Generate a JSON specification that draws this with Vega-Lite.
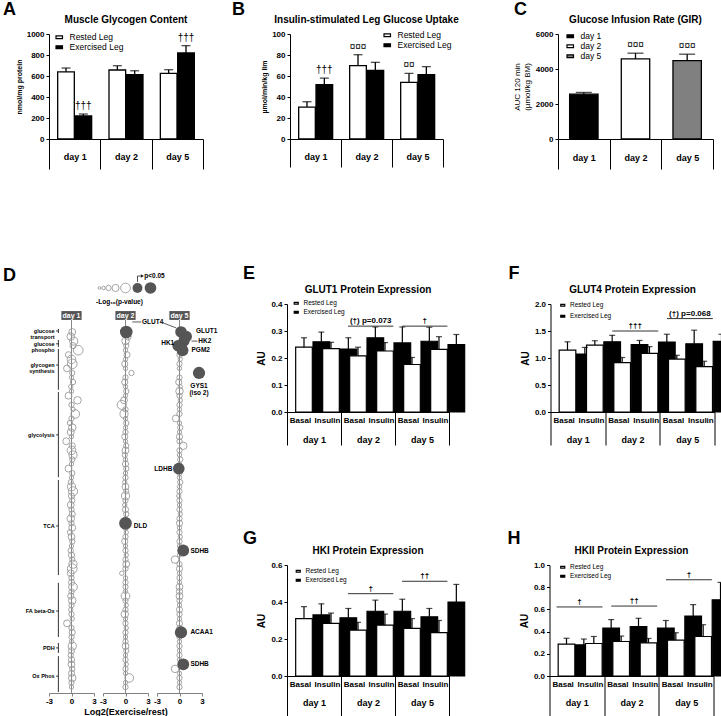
{
"$schema":"https://vega.github.io/schema/vega-lite/v6.json",
"background":"white",
"padding":{"left":3,"top":1,"right":0,"bottom":0},
"config":{
 "font":"Liberation Sans",
 "view":{"stroke":null},
 "axis":{"grid":false,"domainColor":"black","tickColor":"black","labelColor":"black","titleColor":"black","labelFontWeight":"bold","labelFontSize":8,"tickSize":3,"labelPadding":2,"titleFontWeight":"bold","titleFontSize":7,"domainWidth":1,"tickWidth":1,"labelOverlap":false},
 "title":{"fontSize":10,"fontWeight":"bold","color":"black"},
 "legend":{"labelColor":"black","labelFontWeight":"normal","symbolStrokeColor":"black","symbolStrokeWidth":1.2,"symbolType":"M-1,-0.45H1V0.45H-1Z"},
 "text":{"color":"black"}
},
"datasets":{
 "gly":[{"day":"day 1","leg":"Rested Leg","v":640,"hi":676,"sig":""},{"day":"day 1","leg":"Exercised Leg","v":219,"hi":238,"sig":"†††"},{"day":"day 2","leg":"Rested Leg","v":657,"hi":698,"sig":""},{"day":"day 2","leg":"Exercised Leg","v":612,"hi":650,"sig":""},{"day":"day 5","leg":"Rested Leg","v":625,"hi":660,"sig":""},{"day":"day 5","leg":"Exercised Leg","v":819,"hi":889,"sig":"†††"}],
 "glu":[{"day":"day 1","leg":"Rested Leg","v":30.4,"hi":35.5,"sig":""},{"day":"day 1","leg":"Exercised Leg","v":51.7,"hi":58,"sig":"†††"},{"day":"day 2","leg":"Rested Leg","v":69.8,"hi":80.3,"sig":"¤¤¤"},{"day":"day 2","leg":"Exercised Leg","v":65.4,"hi":73,"sig":""},{"day":"day 5","leg":"Rested Leg","v":54,"hi":62.5,"sig":"¤¤"},{"day":"day 5","leg":"Exercised Leg","v":61.2,"hi":68.9,"sig":""}],
 "gir":[{"day":"day 1","v":2560,"hi":2660,"sig":""},{"day":"day 2","v":4574,"hi":4904,"sig":"¤¤¤"},{"day":"day 5","v":4481,"hi":4846,"sig":"¤¤¤"}],
 "glut1":[{"c":"d1 Basal","leg":"Rested Leg","v":0.240,"hi":0.275},{"c":"d1 Basal","leg":"Exercised Leg","v":0.260,"hi":0.296},{"c":"d1 Insulin","leg":"Rested Leg","v":0.235,"hi":0.258},{"c":"d1 Insulin","leg":"Exercised Leg","v":0.233,"hi":0.275},{"c":"d2 Basal","leg":"Rested Leg","v":0.208,"hi":0.240},{"c":"d2 Basal","leg":"Exercised Leg","v":0.275,"hi":0.315},{"c":"d2 Insulin","leg":"Rested Leg","v":0.226,"hi":0.257},{"c":"d2 Insulin","leg":"Exercised Leg","v":0.256,"hi":0.315},{"c":"d5 Basal","leg":"Rested Leg","v":0.176,"hi":0.202},{"c":"d5 Basal","leg":"Exercised Leg","v":0.262,"hi":0.314},{"c":"d5 Insulin","leg":"Rested Leg","v":0.232,"hi":0.279},{"c":"d5 Insulin","leg":"Exercised Leg","v":0.250,"hi":0.287}],
 "glut4":[{"c":"d1 Basal","leg":"Rested Leg","v":1.147,"hi":1.30},{"c":"d1 Basal","leg":"Exercised Leg","v":1.074,"hi":1.196},{"c":"d1 Insulin","leg":"Rested Leg","v":1.24,"hi":1.32},{"c":"d1 Insulin","leg":"Exercised Leg","v":1.30,"hi":1.42},{"c":"d2 Basal","leg":"Rested Leg","v":0.914,"hi":1.01},{"c":"d2 Basal","leg":"Exercised Leg","v":1.25,"hi":1.325},{"c":"d2 Insulin","leg":"Rested Leg","v":1.086,"hi":1.21},{"c":"d2 Insulin","leg":"Exercised Leg","v":1.295,"hi":1.44},{"c":"d5 Basal","leg":"Rested Leg","v":0.98,"hi":1.05},{"c":"d5 Basal","leg":"Exercised Leg","v":1.264,"hi":1.515},{"c":"d5 Insulin","leg":"Rested Leg","v":0.84,"hi":0.94},{"c":"d5 Insulin","leg":"Exercised Leg","v":1.307,"hi":1.44}],
 "hk1":[{"c":"d1 Basal","leg":"Rested Leg","v":0.31,"hi":0.375},{"c":"d1 Basal","leg":"Exercised Leg","v":0.33,"hi":0.39},{"c":"d1 Insulin","leg":"Rested Leg","v":0.285,"hi":0.34},{"c":"d1 Insulin","leg":"Exercised Leg","v":0.315,"hi":0.365},{"c":"d2 Basal","leg":"Rested Leg","v":0.248,"hi":0.29},{"c":"d2 Basal","leg":"Exercised Leg","v":0.35,"hi":0.41},{"c":"d2 Insulin","leg":"Rested Leg","v":0.275,"hi":0.335},{"c":"d2 Insulin","leg":"Exercised Leg","v":0.35,"hi":0.415},{"c":"d5 Basal","leg":"Rested Leg","v":0.257,"hi":0.31},{"c":"d5 Basal","leg":"Exercised Leg","v":0.32,"hi":0.365},{"c":"d5 Insulin","leg":"Rested Leg","v":0.235,"hi":0.30},{"c":"d5 Insulin","leg":"Exercised Leg","v":0.40,"hi":0.495}],
 "hk2":[{"c":"d1 Basal","leg":"Rested Leg","v":0.287,"hi":0.34},{"c":"d1 Basal","leg":"Exercised Leg","v":0.28,"hi":0.333},{"c":"d1 Insulin","leg":"Rested Leg","v":0.293,"hi":0.356},{"c":"d1 Insulin","leg":"Exercised Leg","v":0.432,"hi":0.508},{"c":"d2 Basal","leg":"Rested Leg","v":0.311,"hi":0.36},{"c":"d2 Basal","leg":"Exercised Leg","v":0.444,"hi":0.52},{"c":"d2 Insulin","leg":"Rested Leg","v":0.299,"hi":0.338},{"c":"d2 Insulin","leg":"Exercised Leg","v":0.432,"hi":0.50},{"c":"d5 Basal","leg":"Rested Leg","v":0.323,"hi":0.39},{"c":"d5 Basal","leg":"Exercised Leg","v":0.54,"hi":0.643},{"c":"d5 Insulin","leg":"Rested Leg","v":0.356,"hi":0.462},{"c":"d5 Insulin","leg":"Exercised Leg","v":0.686,"hi":0.843}],
 "spans":[{"panel":"E","day":"day 2","y":0.318,"t":"(†) p=0.073"},{"panel":"E","day":"day 5","y":0.318,"t":"†"},{"panel":"F","day":"day 2","y":1.5,"t":"†††"},{"panel":"F","day":"day 5","y":1.73,"t":"(†) p=0.068"},{"panel":"G","day":"day 2","y":0.445,"t":"†"},{"panel":"G","day":"day 5","y":0.512,"t":"††"},{"panel":"H","day":"day 1","y":0.622,"t":"†"},{"panel":"H","day":"day 2","y":0.63,"t":"††"},{"panel":"H","day":"day 5","y":0.867,"t":"†"}],
 "groups":[{"g":"glucose\ntransport","a":0.34,"b":1.22,"m":0.78},{"g":"glucose\nphospho","a":2.76,"b":4.3,"m":3.6},{"g":"glycogen\nsynthesis","a":4.7,"b":13.7,"m":8.25},{"g":"glycolysis","a":14.2,"b":32.9,"m":23.6},{"g":"TCA","a":33.5,"b":54.4,"m":43.6},{"g":"FA beta-Ox","a":56.1,"b":68,"m":62.3},{"g":"PDH","a":69.3,"b":71.5,"m":70.4},{"g":"Ox Phos","a":72.2,"b":80.1,"m":76.6}],
 "annL":[{"d":2,"t":"GLUT4","x":2.2,"p":-1.2},{"d":2,"t":"DLD","x":1.1,"p":43.6},{"d":5,"t":"GLUT1","x":2.2,"p":0.8},{"d":5,"t":"HK2","x":2.5,"p":3.0},{"d":5,"t":"PGM2","x":1.6,"p":4.9},{"d":5,"t":"SDHB","x":1.45,"p":49},{"d":5,"t":"ACAA1","x":1.45,"p":67},{"d":5,"t":"SDHB","x":1.45,"p":74}],
 "annR":[{"d":5,"t":"HK1","x":-0.7,"p":3.4},{"d":5,"t":"LDHB","x":-0.95,"p":31}],
 "annC":[{"d":5,"t":"GYS1\n(iso 2)","x":2.6,"p":12.3}],
 "lead":[{"d":2,"x":0.9,"p":-1.2,"x2":2.1,"p2":-1.2},{"d":5,"x":-2.5,"p":-1.2,"x2":-0.45,"p2":0.1},{"d":5,"x":1.6,"p":3.0,"x2":2.4,"p2":3.0}],
 "legOpen":[{"x":-3.47,"s":0.075},{"x":-2.93,"s":0.13},{"x":-2.27,"s":0.3},{"x":-1.33,"s":0.53},{"x":0,"s":1.0}],
 "legFill":[{"x":1.6,"s":1.05},{"x":3.33,"s":1.45}],
 "bub":[
{"d":1,"p":1,"x":0.1,"s":0.5},{"d":1,"p":2,"x":-0.1,"s":0.6},{"d":1,"p":3,"x":0.3,"s":0.7},{"d":1,"p":4,"x":0.2,"s":0.4},{"d":1,"p":5,"x":0.9,"s":1.0},{"d":1,"p":6,"x":-0.4,"s":0.4},{"d":1,"p":7,"x":0.0,"s":0.8},{"d":1,"p":8,"x":0.1,"s":1.0},{"d":1,"p":9,"x":-0.6,"s":0.5},{"d":1,"p":10,"x":0.1,"s":0.3},
{"d":1,"p":11,"x":0.0,"s":0.2},{"d":1,"p":12,"x":0.2,"s":0.3},{"d":1,"p":13,"x":-0.1,"s":0.2},{"d":1,"p":14,"x":0.0,"s":0.2},{"d":1,"p":15,"x":-0.4,"s":0.5},{"d":1,"p":16,"x":0.8,"s":0.6},{"d":1,"p":17,"x":0.0,"s":0.3},{"d":1,"p":18,"x":0.2,"s":0.2},{"d":1,"p":19,"x":0.5,"s":0.8},{"d":1,"p":20,"x":0.0,"s":0.3},
{"d":1,"p":21,"x":-0.2,"s":0.3},{"d":1,"p":22,"x":0.1,"s":0.6},{"d":1,"p":23,"x":-0.1,"s":0.5},{"d":1,"p":24,"x":0.0,"s":0.2},{"d":1,"p":25,"x":-0.7,"s":0.5},{"d":1,"p":26,"x":0.1,"s":0.4},{"d":1,"p":27,"x":0.0,"s":0.8},{"d":1,"p":28,"x":0.2,"s":0.7},{"d":1,"p":29,"x":0.1,"s":0.3},{"d":1,"p":30,"x":0.0,"s":0.2},
{"d":1,"p":31,"x":-0.4,"s":0.5},{"d":1,"p":32,"x":0.1,"s":0.3},{"d":1,"p":33,"x":0.0,"s":0.2},{"d":1,"p":34,"x":-0.1,"s":0.3},{"d":1,"p":35,"x":0.0,"s":0.7},{"d":1,"p":36,"x":0.2,"s":0.9},{"d":1,"p":37,"x":0.0,"s":0.4},{"d":1,"p":38,"x":0.1,"s":0.3},{"d":1,"p":39,"x":-0.1,"s":0.5},{"d":1,"p":40,"x":0.0,"s":0.3},
{"d":1,"p":41,"x":0.1,"s":0.4},{"d":1,"p":42,"x":-0.1,"s":0.6},{"d":1,"p":43,"x":0.0,"s":0.3},{"d":1,"p":44,"x":0.1,"s":0.5},{"d":1,"p":45,"x":-0.2,"s":0.3},{"d":1,"p":46,"x":0.0,"s":0.5},{"d":1,"p":47,"x":0.1,"s":0.3},{"d":1,"p":48,"x":0.0,"s":0.2},{"d":1,"p":49,"x":-0.1,"s":0.3},{"d":1,"p":50,"x":0.0,"s":0.4},
{"d":1,"p":51,"x":0.1,"s":0.3},{"d":1,"p":52,"x":0.2,"s":0.7},{"d":1,"p":53,"x":0.1,"s":1.0},{"d":1,"p":54,"x":-0.1,"s":0.5},{"d":1,"p":55,"x":0.0,"s":0.3},{"d":1,"p":56,"x":0.0,"s":0.4},{"d":1,"p":57,"x":0.2,"s":0.8},{"d":1,"p":58,"x":0.0,"s":0.3},{"d":1,"p":59,"x":-0.1,"s":0.4},{"d":1,"p":60,"x":0.1,"s":0.6},
{"d":1,"p":61,"x":0.0,"s":0.3},{"d":1,"p":62,"x":-0.1,"s":0.2},{"d":1,"p":63,"x":0.0,"s":0.3},{"d":1,"p":64,"x":0.1,"s":0.2},{"d":1,"p":65,"x":-0.6,"s":0.5},{"d":1,"p":66,"x":0.0,"s":0.3},{"d":1,"p":67,"x":0.1,"s":0.4},{"d":1,"p":68,"x":0.0,"s":0.3},{"d":1,"p":69,"x":0.0,"s":0.2},{"d":1,"p":70,"x":0.1,"s":0.7},
{"d":1,"p":71,"x":0.0,"s":0.4},{"d":1,"p":72,"x":-0.1,"s":0.3},{"d":1,"p":73,"x":0.0,"s":0.4},{"d":1,"p":74,"x":0.0,"s":0.5},{"d":1,"p":75,"x":0.1,"s":0.3},{"d":1,"p":76,"x":0.0,"s":0.4},{"d":1,"p":77,"x":0.1,"s":0.6},{"d":1,"p":78,"x":0.0,"s":0.3},{"d":1,"p":79,"x":0.0,"s":0.2},
{"d":2,"p":1,"x":0.1,"s":1.7},{"d":2,"p":2,"x":0.3,"s":0.5},{"d":2,"p":3,"x":0.0,"s":0.6},{"d":2,"p":4,"x":0.1,"s":0.3},{"d":2,"p":5,"x":0.0,"s":0.2},{"d":2,"p":6,"x":0.2,"s":0.4},{"d":2,"p":7,"x":0.0,"s":0.2},{"d":2,"p":8,"x":-0.1,"s":0.4},{"d":2,"p":9,"x":0.0,"s":0.2},{"d":2,"p":10,"x":0.8,"s":0.3},
{"d":2,"p":11,"x":0.0,"s":0.3},{"d":2,"p":12,"x":-0.1,"s":0.4},{"d":2,"p":13,"x":0.0,"s":0.2},{"d":2,"p":14,"x":0.1,"s":0.3},{"d":2,"p":15,"x":0.0,"s":0.2},{"d":2,"p":16,"x":-0.2,"s":0.5},{"d":2,"p":17,"x":-0.5,"s":0.9},{"d":2,"p":18,"x":0.0,"s":0.3},{"d":2,"p":19,"x":-0.2,"s":0.7},{"d":2,"p":20,"x":0.0,"s":0.2},
{"d":2,"p":21,"x":0.1,"s":0.3},{"d":2,"p":22,"x":0.0,"s":0.2},{"d":2,"p":23,"x":0.0,"s":0.3},{"d":2,"p":24,"x":-0.1,"s":0.4},{"d":2,"p":25,"x":0.0,"s":0.2},{"d":2,"p":26,"x":0.1,"s":0.3},{"d":2,"p":27,"x":0.0,"s":0.5},{"d":2,"p":28,"x":-0.1,"s":0.3},{"d":2,"p":29,"x":0.0,"s":0.2},{"d":2,"p":30,"x":0.0,"s":0.4},
{"d":2,"p":31,"x":0.1,"s":0.3},{"d":2,"p":32,"x":0.0,"s":0.2},{"d":2,"p":33,"x":0.0,"s":0.3},{"d":2,"p":34,"x":-0.1,"s":0.2},{"d":2,"p":35,"x":0.0,"s":0.5},{"d":2,"p":36,"x":0.1,"s":0.3},{"d":2,"p":37,"x":0.0,"s":0.7},{"d":2,"p":38,"x":0.0,"s":0.3},{"d":2,"p":39,"x":-0.1,"s":0.2},{"d":2,"p":40,"x":0.0,"s":0.4},
{"d":2,"p":41,"x":0.1,"s":0.3},{"d":2,"p":42,"x":0.0,"s":0.2},{"d":2,"p":43,"x":0.0,"s":1.7},{"d":2,"p":44,"x":0.0,"s":0.3},{"d":2,"p":45,"x":0.1,"s":0.2},{"d":2,"p":46,"x":0.0,"s":0.3},{"d":2,"p":47,"x":-0.1,"s":0.4},{"d":2,"p":48,"x":0.0,"s":0.2},{"d":2,"p":49,"x":0.0,"s":0.3},{"d":2,"p":50,"x":0.1,"s":0.2},
{"d":2,"p":51,"x":0.0,"s":0.3},{"d":2,"p":52,"x":0.1,"s":0.5},{"d":2,"p":53,"x":0.0,"s":0.3},{"d":2,"p":54,"x":-0.5,"s":0.2},{"d":2,"p":55,"x":0.0,"s":0.2},{"d":2,"p":56,"x":0.0,"s":0.3},{"d":2,"p":57,"x":0.0,"s":0.3},{"d":2,"p":58,"x":0.0,"s":0.2},{"d":2,"p":59,"x":0.0,"s":0.8},{"d":2,"p":60,"x":0.0,"s":0.3},
{"d":2,"p":61,"x":0.1,"s":0.2},{"d":2,"p":62,"x":0.0,"s":0.3},{"d":2,"p":63,"x":-0.1,"s":0.6},{"d":2,"p":64,"x":0.0,"s":0.2},{"d":2,"p":65,"x":0.0,"s":0.3},{"d":2,"p":66,"x":0.1,"s":0.2},{"d":2,"p":67,"x":0.0,"s":0.3},{"d":2,"p":68,"x":0.0,"s":0.2},{"d":2,"p":69,"x":0.0,"s":0.3},{"d":2,"p":70,"x":0.0,"s":0.5},
{"d":2,"p":71,"x":0.1,"s":0.3},{"d":2,"p":72,"x":0.0,"s":0.2},{"d":2,"p":73,"x":0.0,"s":0.3},{"d":2,"p":74,"x":0.1,"s":0.2},{"d":2,"p":75,"x":0.0,"s":0.3},{"d":2,"p":76,"x":0.0,"s":0.2},{"d":2,"p":77,"x":0.5,"s":0.8},{"d":2,"p":78,"x":0.0,"s":0.2},{"d":2,"p":79,"x":0.0,"s":0.3},
{"d":5,"p":1,"x":0.2,"s":1.45},{"d":5,"p":2,"x":0.9,"s":1.4},{"d":5,"p":3,"x":0.6,"s":1.35},{"d":5,"p":4,"x":-0.2,"s":1.35},{"d":5,"p":5,"x":0.4,"s":1.5},{"d":5,"p":6,"x":0.0,"s":0.3},{"d":5,"p":7,"x":0.1,"s":0.2},{"d":5,"p":8,"x":0.0,"s":0.3},{"d":5,"p":9,"x":0.0,"s":0.2},{"d":5,"p":10,"x":2.6,"s":1.6},
{"d":5,"p":11,"x":0.0,"s":0.3},{"d":5,"p":12,"x":-0.1,"s":0.4},{"d":5,"p":13,"x":0.1,"s":0.2},{"d":5,"p":14,"x":0.0,"s":0.6},{"d":5,"p":15,"x":0.0,"s":0.3},{"d":5,"p":16,"x":0.1,"s":0.2},{"d":5,"p":17,"x":0.0,"s":0.3},{"d":5,"p":18,"x":0.0,"s":0.2},{"d":5,"p":19,"x":0.0,"s":0.3},{"d":5,"p":20,"x":-0.5,"s":0.5},
{"d":5,"p":21,"x":0.0,"s":0.2},{"d":5,"p":22,"x":0.1,"s":0.3},{"d":5,"p":23,"x":0.0,"s":0.2},{"d":5,"p":24,"x":0.0,"s":0.4},{"d":5,"p":25,"x":0.0,"s":0.3},{"d":5,"p":26,"x":0.5,"s":0.6},{"d":5,"p":27,"x":0.0,"s":0.3},{"d":5,"p":28,"x":0.0,"s":0.2},{"d":5,"p":29,"x":0.1,"s":0.3},{"d":5,"p":30,"x":0.0,"s":0.2},
{"d":5,"p":31,"x":-0.1,"s":1.45},{"d":5,"p":32,"x":0.0,"s":0.3},{"d":5,"p":33,"x":0.0,"s":0.2},{"d":5,"p":34,"x":0.1,"s":0.3},{"d":5,"p":35,"x":0.0,"s":0.2},{"d":5,"p":36,"x":0.0,"s":0.3},{"d":5,"p":37,"x":-0.1,"s":0.2},{"d":5,"p":38,"x":0.0,"s":0.3},{"d":5,"p":39,"x":0.0,"s":0.2},{"d":5,"p":40,"x":0.0,"s":0.3},
{"d":5,"p":41,"x":0.1,"s":0.2},{"d":5,"p":42,"x":0.0,"s":0.3},{"d":5,"p":43,"x":0.0,"s":0.4},{"d":5,"p":44,"x":0.0,"s":0.2},{"d":5,"p":45,"x":0.0,"s":0.3},{"d":5,"p":46,"x":0.1,"s":0.2},{"d":5,"p":47,"x":0.0,"s":0.3},{"d":5,"p":48,"x":0.0,"s":0.2},{"d":5,"p":49,"x":0.5,"s":1.5},{"d":5,"p":50,"x":0.0,"s":0.2},
{"d":5,"p":51,"x":-0.6,"s":0.6},{"d":5,"p":52,"x":0.0,"s":0.3},{"d":5,"p":53,"x":0.0,"s":0.4},{"d":5,"p":54,"x":0.0,"s":0.2},{"d":5,"p":55,"x":0.0,"s":0.3},{"d":5,"p":56,"x":0.0,"s":0.2},{"d":5,"p":57,"x":0.0,"s":0.5},{"d":5,"p":58,"x":0.0,"s":0.4},{"d":5,"p":59,"x":0.0,"s":0.5},{"d":5,"p":60,"x":0.0,"s":0.3},
{"d":5,"p":61,"x":0.0,"s":0.2},{"d":5,"p":62,"x":0.0,"s":0.4},{"d":5,"p":63,"x":0.0,"s":0.3},{"d":5,"p":64,"x":0.0,"s":0.2},{"d":5,"p":65,"x":0.0,"s":0.4},{"d":5,"p":66,"x":0.0,"s":0.3},{"d":5,"p":67,"x":0.2,"s":1.6},{"d":5,"p":68,"x":0.0,"s":0.3},{"d":5,"p":69,"x":0.0,"s":0.2},{"d":5,"p":70,"x":0.0,"s":0.3},
{"d":5,"p":71,"x":0.0,"s":0.2},{"d":5,"p":72,"x":0.0,"s":0.3},{"d":5,"p":73,"x":0.0,"s":0.2},{"d":5,"p":74,"x":0.5,"s":1.5},{"d":5,"p":75,"x":-0.6,"s":0.6},{"d":5,"p":76,"x":0.0,"s":0.2},{"d":5,"p":77,"x":0.0,"s":0.3},{"d":5,"p":78,"x":0.0,"s":0.2},{"d":5,"p":79,"x":0.0,"s":0.3}
 ]
},
"resolve":{"scale":{"fill":"independent","size":"independent"},"legend":{"fill":"independent","size":"independent"}},
"vconcat":[
 {"resolve":{"scale":{"fill":"independent","size":"independent"},"legend":{"fill":"independent","size":"independent"}},
  "hconcat":[
  {"resolve":{"scale":{"fill":"independent","size":"independent"},"legend":{"fill":"independent","size":"independent"}},
   "hconcat":[
   {"title":{"text":"A","anchor":"start","frame":"group","fontSize":18,"dx":-46,"dy":4.5,"offset":0},"bounds":"flush","resolve":{"legend":{"fill":"independent"}},"vconcat":[
    {"width":154,"height":105,"title":{"text":"Muscle Glycogen Content","offset":5.5,"frame":"group"},"data":{"name":"gly"},
     "encoding":{
      "x":{"field":"day","type":"nominal","scale":{"paddingInner":0,"paddingOuter":0},"axis":{"title":null,"labelAngle":0,"tickBand":"extent","tickSize":30,"labelPadding":-17,"labelFontSize":9}},
      "xOffset":{"field":"leg","type":"nominal","sort":["Rested Leg","Exercised Leg"],"scale":{"paddingInner":0.04,"paddingOuter":0.5}},
      "y":{"field":"v","type":"quantitative","scale":{"domain":[0,1000]},"axis":{"title":"nmol/mg protein","values":[0,200,400,600,800,1000],"format":"d","labelOverlap":false}}},
     "layer":[
      {"mark":{"type":"bar","stroke":"black","strokeWidth":1.3},"encoding":{"fill":{"field":"leg","type":"nominal","scale":{"domain":["Rested Leg","Exercised Leg"],"range":["white","black"]},"legend":{"title":null,"orient":"none","legendX":6,"legendY":-1,"labelFontSize":8.5,"symbolSize":42,"rowPadding":1,"labelOffset":6}}}},
      {"mark":{"type":"rule","color":"black","strokeWidth":1.3},"encoding":{"y2":{"field":"hi"}}},
      {"mark":{"type":"tick","color":"black","thickness":1.3,"size":9},"encoding":{"y":{"field":"hi","type":"quantitative"}}},
      {"mark":{"type":"text","baseline":"bottom","dy":-3,"fontSize":10},"encoding":{"y":{"field":"hi","type":"quantitative"},"text":{"field":"sig"}}}
     ]}
   ]},
   {"title":{"text":"B","anchor":"start","frame":"group","fontSize":18,"dx":-58,"dy":4.5,"offset":0},"bounds":"flush","resolve":{"legend":{"fill":"independent"}},"vconcat":[
    {"width":153,"height":105,"title":{"text":"Insulin-stimulated Leg Glucose Uptake","offset":5.5,"frame":"group"},"data":{"name":"glu"},
     "encoding":{
      "x":{"field":"day","type":"nominal","scale":{"paddingInner":0,"paddingOuter":0},"axis":{"title":null,"labelAngle":0,"tickBand":"extent","tickSize":28,"labelPadding":-15,"labelFontSize":9}},
      "xOffset":{"field":"leg","type":"nominal","sort":["Rested Leg","Exercised Leg"],"scale":{"paddingInner":0.04,"paddingOuter":0.5}},
      "y":{"field":"v","type":"quantitative","scale":{"domain":[0,100]},"axis":{"title":"µmol/min/kg llm","values":[0,20,40,60,80,100],"labelOverlap":false}}},
     "layer":[
      {"mark":{"type":"bar","stroke":"black","strokeWidth":1.3},"encoding":{"fill":{"field":"leg","type":"nominal","scale":{"domain":["Rested Leg","Exercised Leg"],"range":["white","black"]},"legend":{"title":null,"orient":"none","legendX":93,"legendY":-3,"labelFontSize":8.5,"symbolSize":42,"rowPadding":1,"labelOffset":6}}}},
      {"mark":{"type":"rule","color":"black","strokeWidth":1.3},"encoding":{"y2":{"field":"hi"}}},
      {"mark":{"type":"tick","color":"black","thickness":1.3,"size":9},"encoding":{"y":{"field":"hi","type":"quantitative"}}},
      {"mark":{"type":"text","baseline":"bottom","dy":-3,"fontSize":10},"encoding":{"y":{"field":"hi","type":"quantitative"},"text":{"field":"sig"}}}
     ]}
   ]}
  ],"spacing":28,"bounds":"full"},
  {"title":{"text":"C","anchor":"start","frame":"group","fontSize":18,"dx":-44,"dy":4.5,"offset":0},"bounds":"flush","resolve":{"legend":{"fill":"independent"}},"vconcat":[
   {"width":155,"height":105,"title":{"text":"Glucose Infusion Rate (GIR)","offset":5.5,"frame":"group"},"data":{"name":"gir"},
    "encoding":{
     "x":{"field":"day","type":"nominal","scale":{"paddingInner":0,"paddingOuter":0},"axis":{"title":null,"labelAngle":0,"tickBand":"extent","tickSize":30,"labelPadding":-16,"labelFontSize":9}},
     "y":{"field":"v","type":"quantitative","scale":{"domain":[0,6000]},"axis":{"title":["AUC 120 min","(µmol/kg BM)"],"titleFontWeight":"normal","titleFontSize":8,"values":[0,2000,4000,6000],"format":"d","labelOverlap":false}}},
    "layer":[
     {"mark":{"type":"bar","stroke":"black","strokeWidth":1.3,"width":{"band":0.55}},"encoding":{"fill":{"field":"day","type":"nominal","scale":{"domain":["day 1","day 2","day 5"],"range":["black","white","#808080"]},"legend":{"title":null,"orient":"none","legendX":8,"legendY":-2,"labelFontSize":8.5,"symbolSize":42,"rowPadding":1,"labelOffset":6}}}},
     {"mark":{"type":"rule","color":"black","strokeWidth":1.3},"encoding":{"y2":{"field":"hi"}}},
     {"mark":{"type":"tick","color":"black","thickness":1.3,"size":16},"encoding":{"y":{"field":"hi","type":"quantitative"}}},
     {"mark":{"type":"text","baseline":"bottom","dy":-3,"fontSize":10},"encoding":{"y":{"field":"hi","type":"quantitative"},"text":{"field":"sig"}}}
    ]}
  ]}
 ],"spacing":54,"bounds":"full"},
 {"resolve":{"scale":{"fill":"independent","size":"independent"},"legend":{"fill":"independent","size":"independent"}},
  "hconcat":[
  {"title":{"text":"D","anchor":"start","frame":"group","fontSize":18,"dx":-46,"offset":0,"dy":12},"bounds":"flush","spacing":9,
   "resolve":{"scale":{"size":"independent"},"legend":{"size":"independent"}},
   "hconcat":[
   {"width":45,"height":389,
    "layer":[
     {"data":{"values":[{}]},"mark":{"type":"rect","color":"#555555"},"encoding":{"x":{"datum":-1.35,"type":"quantitative","scale":{"domain":[-3,3],"nice":false,"zero":false},"axis":{"values":[-3,0,3],"title":null,"labelExpr":"''+datum.value","domainColor":"#808080","tickColor":"#808080","labelFlush":false,"labelPadding":1,"labelOverlap":false}},"x2":{"datum":1.35},"y":{"datum":-3.6,"type":"quantitative","scale":{"domain":[-5.15,80.3],"reverse":true,"nice":false,"zero":false},"axis":null},"y2":{"datum":-1.65}}},
     {"data":{"values":[{}]},"mark":{"type":"text","color":"white","fontWeight":"bold","fontSize":7},"encoding":{"x":{"datum":0,"type":"quantitative","axis":{"values":[-3,0,3],"title":null,"labelExpr":"''+datum.value","domainColor":"#808080","tickColor":"#808080","labelFlush":false,"labelPadding":1,"labelOverlap":false}},"y":{"datum":-2.6,"type":"quantitative","axis":null},"text":{"value":"day 1"}}},
     {"data":{"values":[{}]},"mark":{"type":"rule","color":"#888888","strokeWidth":1},"encoding":{"x":{"datum":0,"type":"quantitative","axis":{"values":[-3,0,3],"title":null,"labelExpr":"''+datum.value","domainColor":"#808080","tickColor":"#808080","labelFlush":false,"labelPadding":1,"labelOverlap":false}},"y":{"datum":-1.65,"type":"quantitative","axis":null},"y2":{"datum":80.3}}},
     {"data":{"name":"groups"},"mark":{"type":"rule","color":"#333333","strokeWidth":1},"encoding":{"x":{"datum":-1.75,"type":"quantitative","axis":{"values":[-3,0,3],"title":null,"labelExpr":"''+datum.value","domainColor":"#808080","tickColor":"#808080","labelFlush":false,"labelPadding":1,"labelOverlap":false}},"y":{"field":"a","type":"quantitative","axis":null},"y2":{"field":"b"}}},
     {"data":{"name":"groups"},"mark":{"type":"rule","color":"#333333","strokeWidth":1},"encoding":{"x":{"datum":-2.05,"type":"quantitative","axis":{"values":[-3,0,3],"title":null,"labelExpr":"''+datum.value","domainColor":"#808080","tickColor":"#808080","labelFlush":false,"labelPadding":1,"labelOverlap":false}},"x2":{"datum":-1.75},"y":{"field":"m","type":"quantitative","axis":null}}},
     {"data":{"name":"groups"},"mark":{"type":"text","align":"right","baseline":"middle","fontSize":5.5,"fontWeight":"bold","lineBreak":"\n","lineHeight":6},"encoding":{"x":{"datum":-2.25,"type":"quantitative","axis":{"values":[-3,0,3],"title":null,"labelExpr":"''+datum.value","domainColor":"#808080","tickColor":"#808080","labelFlush":false,"labelPadding":1,"labelOverlap":false}},"y":{"field":"m","type":"quantitative","axis":null},"text":{"field":"g"}}},
     {"data":{"name":"bub"},"transform":[{"filter":"datum.d==1 && datum.s<1.3"}],"mark":{"type":"point","shape":"circle","filled":false,"stroke":"#9a9a9a","strokeWidth":0.9,"opacity":1},"encoding":{"x":{"field":"x","type":"quantitative","axis":{"values":[-3,0,3],"title":null,"labelExpr":"''+datum.value","domainColor":"#808080","tickColor":"#808080","labelFlush":false,"labelPadding":1,"labelOverlap":false}},"y":{"field":"p","type":"quantitative","axis":null},"size":{"field":"s","type":"quantitative","scale":{"domain":[0,2.5],"range":[0,235]},"legend":null}}}
    ]},
   {"width":45,"height":389,
    "layer":[
     {"data":{"values":[{}]},"mark":{"type":"rect","color":"#555555"},"encoding":{"x":{"datum":-1.35,"type":"quantitative","scale":{"domain":[-3,3],"nice":false,"zero":false},"axis":{"values":[-3,0,3],"title":"Log2(Exercise/rest)","titleFontSize":9,"titlePadding":2,"labelExpr":"''+datum.value","domainColor":"#808080","tickColor":"#808080","labelFlush":false,"labelPadding":1,"labelOverlap":false}},"x2":{"datum":1.35},"y":{"datum":-3.6,"type":"quantitative","scale":{"domain":[-5.15,80.3],"reverse":true,"nice":false,"zero":false},"axis":null},"y2":{"datum":-1.65}}},
     {"data":{"values":[{}]},"mark":{"type":"text","color":"white","fontWeight":"bold","fontSize":7},"encoding":{"x":{"datum":0,"type":"quantitative","axis":{"values":[-3,0,3],"title":"Log2(Exercise/rest)","titleFontSize":9,"titlePadding":2,"labelExpr":"''+datum.value","domainColor":"#808080","tickColor":"#808080","labelFlush":false,"labelPadding":1,"labelOverlap":false}},"y":{"datum":-2.6,"type":"quantitative","axis":null},"text":{"value":"day 2"}}},
     {"data":{"values":[{}]},"mark":{"type":"rule","color":"#888888","strokeWidth":1},"encoding":{"x":{"datum":0,"type":"quantitative","axis":{"values":[-3,0,3],"title":"Log2(Exercise/rest)","titleFontSize":9,"titlePadding":2,"labelExpr":"''+datum.value","domainColor":"#808080","tickColor":"#808080","labelFlush":false,"labelPadding":1,"labelOverlap":false}},"y":{"datum":-1.65,"type":"quantitative","axis":null},"y2":{"datum":80.3}}},
     {"data":{"name":"bub"},"transform":[{"filter":"datum.d==2 && datum.s<1.3"}],"mark":{"type":"point","shape":"circle","filled":false,"stroke":"#9a9a9a","strokeWidth":0.9,"opacity":1},"encoding":{"x":{"field":"x","type":"quantitative","axis":{"values":[-3,0,3],"title":"Log2(Exercise/rest)","titleFontSize":9,"titlePadding":2,"labelExpr":"''+datum.value","domainColor":"#808080","tickColor":"#808080","labelFlush":false,"labelPadding":1,"labelOverlap":false}},"y":{"field":"p","type":"quantitative","axis":null},"size":{"field":"s","type":"quantitative","scale":{"domain":[0,2.5],"range":[0,235]},"legend":null}}},
     {"data":{"name":"bub"},"transform":[{"filter":"datum.d==2 && datum.s>=1.3"}],"mark":{"type":"circle","color":"#555555","opacity":1},"encoding":{"x":{"field":"x","type":"quantitative","axis":{"values":[-3,0,3],"title":"Log2(Exercise/rest)","titleFontSize":9,"titlePadding":2,"labelExpr":"''+datum.value","domainColor":"#808080","tickColor":"#808080","labelFlush":false,"labelPadding":1,"labelOverlap":false}},"y":{"field":"p","type":"quantitative","axis":null},"size":{"field":"s","type":"quantitative","legend":null}}},
     {"data":{"name":"lead"},"transform":[{"filter":"datum.d==2"}],"mark":{"type":"rule","color":"#333333","strokeWidth":0.8},"encoding":{"x":{"field":"x","type":"quantitative","axis":{"values":[-3,0,3],"title":"Log2(Exercise/rest)","titleFontSize":9,"titlePadding":2,"labelExpr":"''+datum.value","domainColor":"#808080","tickColor":"#808080","labelFlush":false,"labelPadding":1,"labelOverlap":false}},"x2":{"field":"x2"},"y":{"field":"p","type":"quantitative","axis":null},"y2":{"field":"p2"}}},
     {"data":{"name":"annL"},"transform":[{"filter":"datum.d==2"}],"mark":{"type":"text","align":"left","baseline":"middle","fontSize":6.5,"fontWeight":"bold"},"encoding":{"x":{"field":"x","type":"quantitative","axis":{"values":[-3,0,3],"title":"Log2(Exercise/rest)","titleFontSize":9,"titlePadding":2,"labelExpr":"''+datum.value","domainColor":"#808080","tickColor":"#808080","labelFlush":false,"labelPadding":1,"labelOverlap":false}},"y":{"field":"p","type":"quantitative","axis":null},"text":{"field":"t"}}},
     {"data":{"name":"legOpen"},"mark":{"type":"point","shape":"circle","filled":false,"stroke":"#9a9a9a","strokeWidth":0.9,"opacity":1},"encoding":{"x":{"field":"x","type":"quantitative","axis":{"values":[-3,0,3],"title":"Log2(Exercise/rest)","titleFontSize":9,"titlePadding":2,"labelExpr":"''+datum.value","domainColor":"#808080","tickColor":"#808080","labelFlush":false,"labelPadding":1,"labelOverlap":false}},"y":{"datum":-8.67,"type":"quantitative","axis":null},"size":{"field":"s","type":"quantitative","legend":null}}},
     {"data":{"name":"legFill"},"mark":{"type":"circle","color":"#555555","opacity":1},"encoding":{"x":{"field":"x","type":"quantitative","axis":{"values":[-3,0,3],"title":"Log2(Exercise/rest)","titleFontSize":9,"titlePadding":2,"labelExpr":"''+datum.value","domainColor":"#808080","tickColor":"#808080","labelFlush":false,"labelPadding":1,"labelOverlap":false}},"y":{"datum":-8.67,"type":"quantitative","axis":null},"size":{"field":"s","type":"quantitative","legend":null}}},
     {"data":{"values":[{}]},"mark":{"type":"rule","color":"#222222","strokeWidth":0.8},"encoding":{"x":{"datum":1.6,"type":"quantitative","axis":{"values":[-3,0,3],"title":"Log2(Exercise/rest)","titleFontSize":9,"titlePadding":2,"labelExpr":"''+datum.value","domainColor":"#808080","tickColor":"#808080","labelFlush":false,"labelPadding":1,"labelOverlap":false}},"y":{"datum":-10.0,"type":"quantitative","axis":null},"y2":{"datum":-11.3}}},
     {"data":{"values":[{}]},"mark":{"type":"rule","color":"#222222","strokeWidth":0.8},"encoding":{"x":{"datum":1.6,"type":"quantitative","axis":{"values":[-3,0,3],"title":"Log2(Exercise/rest)","titleFontSize":9,"titlePadding":2,"labelExpr":"''+datum.value","domainColor":"#808080","tickColor":"#808080","labelFlush":false,"labelPadding":1,"labelOverlap":false}},"x2":{"datum":2.2},"y":{"datum":-11.3,"type":"quantitative","axis":null}}},
     {"data":{"values":[{}]},"mark":{"type":"point","shape":"triangle-right","filled":true,"color":"#222222","size":12,"opacity":1},"encoding":{"x":{"datum":2.25,"type":"quantitative","axis":{"values":[-3,0,3],"title":"Log2(Exercise/rest)","titleFontSize":9,"titlePadding":2,"labelExpr":"''+datum.value","domainColor":"#808080","tickColor":"#808080","labelFlush":false,"labelPadding":1,"labelOverlap":false}},"y":{"datum":-11.3,"type":"quantitative","axis":null}}},
     {"data":{"values":[{}]},"mark":{"type":"text","align":"left","baseline":"middle","fontSize":6.5,"fontWeight":"bold"},"encoding":{"x":{"datum":2.5,"type":"quantitative","axis":{"values":[-3,0,3],"title":"Log2(Exercise/rest)","titleFontSize":9,"titlePadding":2,"labelExpr":"''+datum.value","domainColor":"#808080","tickColor":"#808080","labelFlush":false,"labelPadding":1,"labelOverlap":false}},"y":{"datum":-11.3,"type":"quantitative","axis":null},"text":{"value":"p<0.05"}}},
     {"data":{"values":[{}]},"mark":{"type":"text","align":"center","baseline":"middle","fontSize":6.5,"fontWeight":"bold"},"encoding":{"x":{"datum":-0.8,"type":"quantitative","axis":{"values":[-3,0,3],"title":"Log2(Exercise/rest)","titleFontSize":9,"titlePadding":2,"labelExpr":"''+datum.value","domainColor":"#808080","tickColor":"#808080","labelFlush":false,"labelPadding":1,"labelOverlap":false}},"y":{"datum":-5.6,"type":"quantitative","axis":null},"text":{"value":"-Log₁₀(p-value)"}}}
    ]},
   {"width":45,"height":389,
    "layer":[
     {"data":{"values":[{}]},"mark":{"type":"rect","color":"#555555"},"encoding":{"x":{"datum":-1.35,"type":"quantitative","scale":{"domain":[-3,3],"nice":false,"zero":false},"axis":{"values":[-3,0,3],"title":null,"labelExpr":"''+datum.value","domainColor":"#808080","tickColor":"#808080","labelFlush":false,"labelPadding":1,"labelOverlap":false}},"x2":{"datum":1.35},"y":{"datum":-3.6,"type":"quantitative","scale":{"domain":[-5.15,80.3],"reverse":true,"nice":false,"zero":false},"axis":null},"y2":{"datum":-1.65}}},
     {"data":{"values":[{}]},"mark":{"type":"text","color":"white","fontWeight":"bold","fontSize":7},"encoding":{"x":{"datum":0,"type":"quantitative","axis":{"values":[-3,0,3],"title":null,"labelExpr":"''+datum.value","domainColor":"#808080","tickColor":"#808080","labelFlush":false,"labelPadding":1,"labelOverlap":false}},"y":{"datum":-2.6,"type":"quantitative","axis":null},"text":{"value":"day 5"}}},
     {"data":{"values":[{}]},"mark":{"type":"rule","color":"#888888","strokeWidth":1},"encoding":{"x":{"datum":0,"type":"quantitative","axis":{"values":[-3,0,3],"title":null,"labelExpr":"''+datum.value","domainColor":"#808080","tickColor":"#808080","labelFlush":false,"labelPadding":1,"labelOverlap":false}},"y":{"datum":-1.65,"type":"quantitative","axis":null},"y2":{"datum":80.3}}},
     {"data":{"name":"bub"},"transform":[{"filter":"datum.d==5 && datum.s<1.3"}],"mark":{"type":"point","shape":"circle","filled":false,"stroke":"#9a9a9a","strokeWidth":0.9,"opacity":1},"encoding":{"x":{"field":"x","type":"quantitative","axis":{"values":[-3,0,3],"title":null,"labelExpr":"''+datum.value","domainColor":"#808080","tickColor":"#808080","labelFlush":false,"labelPadding":1,"labelOverlap":false}},"y":{"field":"p","type":"quantitative","axis":null},"size":{"field":"s","type":"quantitative","scale":{"domain":[0,2.5],"range":[0,235]},"legend":null}}},
     {"data":{"name":"bub"},"transform":[{"filter":"datum.d==5 && datum.s>=1.3"}],"mark":{"type":"circle","color":"#555555","opacity":1},"encoding":{"x":{"field":"x","type":"quantitative","axis":{"values":[-3,0,3],"title":null,"labelExpr":"''+datum.value","domainColor":"#808080","tickColor":"#808080","labelFlush":false,"labelPadding":1,"labelOverlap":false}},"y":{"field":"p","type":"quantitative","axis":null},"size":{"field":"s","type":"quantitative","legend":null}}},
     {"data":{"name":"lead"},"transform":[{"filter":"datum.d==5"}],"mark":{"type":"rule","color":"#333333","strokeWidth":0.8},"encoding":{"x":{"field":"x","type":"quantitative","axis":{"values":[-3,0,3],"title":null,"labelExpr":"''+datum.value","domainColor":"#808080","tickColor":"#808080","labelFlush":false,"labelPadding":1,"labelOverlap":false}},"x2":{"field":"x2"},"y":{"field":"p","type":"quantitative","axis":null},"y2":{"field":"p2"}}},
     {"data":{"name":"annL"},"transform":[{"filter":"datum.d==5"}],"mark":{"type":"text","align":"left","baseline":"middle","fontSize":6.5,"fontWeight":"bold"},"encoding":{"x":{"field":"x","type":"quantitative","axis":{"values":[-3,0,3],"title":null,"labelExpr":"''+datum.value","domainColor":"#808080","tickColor":"#808080","labelFlush":false,"labelPadding":1,"labelOverlap":false}},"y":{"field":"p","type":"quantitative","axis":null},"text":{"field":"t"}}},
     {"data":{"name":"annR"},"mark":{"type":"text","align":"right","baseline":"middle","fontSize":6.5,"fontWeight":"bold"},"encoding":{"x":{"field":"x","type":"quantitative","axis":{"values":[-3,0,3],"title":null,"labelExpr":"''+datum.value","domainColor":"#808080","tickColor":"#808080","labelFlush":false,"labelPadding":1,"labelOverlap":false}},"y":{"field":"p","type":"quantitative","axis":null},"text":{"field":"t"}}},
     {"data":{"name":"annC"},"mark":{"type":"text","align":"center","baseline":"top","fontSize":6.5,"fontWeight":"bold","lineBreak":"\n","lineHeight":7},"encoding":{"x":{"field":"x","type":"quantitative","axis":{"values":[-3,0,3],"title":null,"labelExpr":"''+datum.value","domainColor":"#808080","tickColor":"#808080","labelFlush":false,"labelPadding":1,"labelOverlap":false}},"y":{"field":"p","type":"quantitative","axis":null},"text":{"field":"t"}}}
    ]}
  ]},
  {"resolve":{"scale":{"fill":"independent","size":"independent"},"legend":{"fill":"independent","size":"independent"}},
   "vconcat":[
   {"resolve":{"scale":{"fill":"independent","size":"independent"},"legend":{"fill":"independent","size":"independent"}},
    "hconcat":[
    {"title":{"text":"E","anchor":"start","frame":"group","fontSize":18,"dx":-44,"dy":-2,"offset":0},"bounds":"flush","resolve":{"legend":{"fill":"independent"}},"vconcat":[
     {"width":162,"height":108,"title":{"text":"GLUT1 Protein Expression","offset":5.5,"frame":"group"},
      "layer":[
       {"data":{"name":"glut1"},
        "encoding":{
         "x":{"field":"c","type":"nominal","scale":{"domain":["d1 Basal","d1 Insulin","d2 Basal","d2 Insulin","d5 Basal","d5 Insulin"],"paddingInner":0,"paddingOuter":0},"axis":{"title":null,"labelAngle":0,"ticks":false,"domain":false,"labelExpr":"substring(datum.label,3)","labelPadding":4,"labelFontSize":8}},
         "xOffset":{"field":"leg","type":"nominal","sort":["Rested Leg","Exercised Leg"],"scale":{"paddingInner":0.04,"paddingOuter":0.5}},
         "y":{"field":"v","type":"quantitative","scale":{"domain":[0,0.4]},"axis":{"title":"AU","titleFontSize":10,"values":[0,0.1,0.2,0.3,0.4],"format":".1f","labelOverlap":false}}},
        "layer":[
         {"mark":{"type":"bar","stroke":"black","strokeWidth":1.2},"encoding":{"fill":{"field":"leg","type":"nominal","scale":{"domain":["Rested Leg","Exercised Leg"],"range":["white","black"]},"legend":{"title":null,"orient":"none","legendX":6,"legendY":-4,"labelFontSize":6.5,"symbolSize":16,"rowPadding":1,"labelOffset":4}}}},
         {"mark":{"type":"rule","color":"black","strokeWidth":1.2},"encoding":{"y2":{"field":"hi"}}},
         {"mark":{"type":"tick","color":"black","thickness":1.2,"size":6},"encoding":{"y":{"field":"hi","type":"quantitative","axis":{"title":"AU","titleFontSize":10,"values":[0,0.1,0.2,0.3,0.4],"format":".1f","labelOverlap":false}}}}
        ]},
       {"data":{"name":"spans"},"transform":[{"filter":"datum.panel=='E'"}],
        "encoding":{
         "x":{"field":"day","type":"nominal","bandPosition":0.13,"scale":{"domain":["day 1","day 2","day 5"],"paddingInner":0,"paddingOuter":0},"axis":{"orient":"bottom","title":null,"labelAngle":0,"tickBand":"extent","tickSize":33,"labelPadding":-10,"labelFontSize":9}},
         "y":{"field":"y","type":"quantitative","axis":{"title":"AU","titleFontSize":10,"values":[0,0.1,0.2,0.3,0.4],"format":".1f","labelOverlap":false}}},
        "layer":[
         {"mark":{"type":"rule","color":"#333333","strokeWidth":1},"encoding":{"x2":{"field":"day","bandPosition":0.97}}},
         {"mark":{"type":"text","baseline":"bottom","dy":-1,"fontSize":8,"fontWeight":"bold"},"encoding":{"x":{"field":"day","type":"nominal","bandPosition":0.55,"axis":{"orient":"bottom","title":null,"labelAngle":0,"tickBand":"extent","tickSize":33,"labelPadding":-10,"labelFontSize":9}},"text":{"field":"t"}}}
        ]}
      ],
      "resolve":{"scale":{"x":"independent"},"axis":{"x":"independent"}}}
    ]},
    {"title":{"text":"F","anchor":"start","frame":"group","fontSize":18,"dx":-42,"dy":-2,"offset":0},"bounds":"flush","resolve":{"legend":{"fill":"independent"}},"vconcat":[
     {"width":164,"height":108,"title":{"text":"GLUT4 Protein Expression","offset":5.5,"frame":"group"},
      "layer":[
       {"data":{"name":"glut4"},
        "encoding":{
         "x":{"field":"c","type":"nominal","scale":{"domain":["d1 Basal","d1 Insulin","d2 Basal","d2 Insulin","d5 Basal","d5 Insulin"],"paddingInner":0,"paddingOuter":0},"axis":{"title":null,"labelAngle":0,"ticks":false,"domain":false,"labelExpr":"substring(datum.label,3)","labelPadding":4,"labelFontSize":8}},
         "xOffset":{"field":"leg","type":"nominal","sort":["Rested Leg","Exercised Leg"],"scale":{"paddingInner":0.04,"paddingOuter":0.5}},
         "y":{"field":"v","type":"quantitative","scale":{"domain":[0,2]},"axis":{"title":"AU","titleFontSize":10,"values":[0,0.5,1,1.5,2],"format":".1f","labelOverlap":false}}},
        "layer":[
         {"mark":{"type":"bar","stroke":"black","strokeWidth":1.2},"encoding":{"fill":{"field":"leg","type":"nominal","scale":{"domain":["Rested Leg","Exercised Leg"],"range":["white","black"]},"legend":{"title":null,"orient":"none","legendX":9,"legendY":-2,"labelFontSize":6.5,"symbolSize":16,"rowPadding":3,"labelOffset":4}}}},
         {"mark":{"type":"rule","color":"black","strokeWidth":1.2},"encoding":{"y2":{"field":"hi"}}},
         {"mark":{"type":"tick","color":"black","thickness":1.2,"size":6},"encoding":{"y":{"field":"hi","type":"quantitative","axis":{"title":"AU","titleFontSize":10,"values":[0,0.5,1,1.5,2],"format":".1f","labelOverlap":false}}}}
        ]},
       {"data":{"name":"spans"},"transform":[{"filter":"datum.panel=='F'"}],
        "encoding":{
         "x":{"field":"day","type":"nominal","bandPosition":0.13,"scale":{"domain":["day 1","day 2","day 5"],"paddingInner":0,"paddingOuter":0},"axis":{"orient":"bottom","title":null,"labelAngle":0,"tickBand":"extent","tickSize":33,"labelPadding":-10,"labelFontSize":9}},
         "y":{"field":"y","type":"quantitative","axis":{"title":"AU","titleFontSize":10,"values":[0,0.5,1,1.5,2],"format":".1f","labelOverlap":false}}},
        "layer":[
         {"mark":{"type":"rule","color":"#333333","strokeWidth":1},"encoding":{"x2":{"field":"day","bandPosition":0.97}}},
         {"mark":{"type":"text","baseline":"bottom","dy":-1,"fontSize":8,"fontWeight":"bold"},"encoding":{"x":{"field":"day","type":"nominal","bandPosition":0.55,"axis":{"orient":"bottom","title":null,"labelAngle":0,"tickBand":"extent","tickSize":33,"labelPadding":-10,"labelFontSize":9}},"text":{"field":"t"}}}
        ]}
      ],
      "resolve":{"scale":{"x":"independent"},"axis":{"x":"independent"}}}
    ]}
   ],"spacing":42.5,"bounds":"full"},
   {"resolve":{"scale":{"fill":"independent","size":"independent"},"legend":{"fill":"independent","size":"independent"}},
    "hconcat":[
    {"title":{"text":"G","anchor":"start","frame":"group","fontSize":18,"dx":-44,"dy":2,"offset":0},"bounds":"flush","resolve":{"legend":{"fill":"independent"}},"vconcat":[
     {"width":162,"height":111,"title":{"text":"HKI Protein Expression","offset":5.5,"frame":"group"},
      "layer":[
       {"data":{"name":"hk1"},
        "encoding":{
         "x":{"field":"c","type":"nominal","scale":{"domain":["d1 Basal","d1 Insulin","d2 Basal","d2 Insulin","d5 Basal","d5 Insulin"],"paddingInner":0,"paddingOuter":0},"axis":{"title":null,"labelAngle":0,"ticks":false,"domain":false,"labelExpr":"substring(datum.label,3)","labelPadding":4,"labelFontSize":8}},
         "xOffset":{"field":"leg","type":"nominal","sort":["Rested Leg","Exercised Leg"],"scale":{"paddingInner":0.04,"paddingOuter":0.5}},
         "y":{"field":"v","type":"quantitative","scale":{"domain":[0,0.6]},"axis":{"title":"AU","titleFontSize":10,"values":[0,0.2,0.4,0.6],"format":".1f","labelOverlap":false}}},
        "layer":[
         {"mark":{"type":"bar","stroke":"black","strokeWidth":1.2},"encoding":{"fill":{"field":"leg","type":"nominal","scale":{"domain":["Rested Leg","Exercised Leg"],"range":["white","black"]},"legend":{"title":null,"orient":"none","legendX":8,"legendY":3,"labelFontSize":6.5,"symbolSize":16,"rowPadding":1,"labelOffset":4}}}},
         {"mark":{"type":"rule","color":"black","strokeWidth":1.2},"encoding":{"y2":{"field":"hi"}}},
         {"mark":{"type":"tick","color":"black","thickness":1.2,"size":6},"encoding":{"y":{"field":"hi","type":"quantitative","axis":{"title":"AU","titleFontSize":10,"values":[0,0.2,0.4,0.6],"format":".1f","labelOverlap":false}}}}
        ]},
       {"data":{"name":"spans"},"transform":[{"filter":"datum.panel=='G'"}],
        "encoding":{
         "x":{"field":"day","type":"nominal","bandPosition":0.13,"scale":{"domain":["day 1","day 2","day 5"],"paddingInner":0,"paddingOuter":0},"axis":{"orient":"bottom","title":null,"labelAngle":0,"tickBand":"extent","tickSize":40,"labelPadding":-18,"labelFontSize":9}},
         "y":{"field":"y","type":"quantitative","axis":{"title":"AU","titleFontSize":10,"values":[0,0.2,0.4,0.6],"format":".1f","labelOverlap":false}}},
        "layer":[
         {"mark":{"type":"rule","color":"#333333","strokeWidth":1},"encoding":{"x2":{"field":"day","bandPosition":0.97}}},
         {"mark":{"type":"text","baseline":"bottom","dy":-1,"fontSize":8,"fontWeight":"bold"},"encoding":{"x":{"field":"day","type":"nominal","bandPosition":0.55,"axis":{"orient":"bottom","title":null,"labelAngle":0,"tickBand":"extent","tickSize":40,"labelPadding":-18,"labelFontSize":9}},"text":{"field":"t"}}}
        ]}
      ],
      "resolve":{"scale":{"x":"independent"},"axis":{"x":"independent"}}}
    ]},
    {"title":{"text":"H","anchor":"start","frame":"group","fontSize":18,"dx":-42,"dy":2,"offset":0},"bounds":"flush","resolve":{"legend":{"fill":"independent"}},"vconcat":[
     {"width":164,"height":111,"title":{"text":"HKII Protein Expression","offset":5.5,"frame":"group"},
      "layer":[
       {"data":{"name":"hk2"},
        "encoding":{
         "x":{"field":"c","type":"nominal","scale":{"domain":["d1 Basal","d1 Insulin","d2 Basal","d2 Insulin","d5 Basal","d5 Insulin"],"paddingInner":0,"paddingOuter":0},"axis":{"title":null,"labelAngle":0,"ticks":false,"domain":false,"labelExpr":"substring(datum.label,3)","labelPadding":4,"labelFontSize":8}},
         "xOffset":{"field":"leg","type":"nominal","sort":["Rested Leg","Exercised Leg"],"scale":{"paddingInner":0.04,"paddingOuter":0.5}},
         "y":{"field":"v","type":"quantitative","scale":{"domain":[0,1]},"axis":{"title":"AU","titleFontSize":10,"values":[0,0.2,0.4,0.6,0.8,1],"format":".1f","labelOverlap":false}}},
        "layer":[
         {"mark":{"type":"bar","stroke":"black","strokeWidth":1.2},"encoding":{"fill":{"field":"leg","type":"nominal","scale":{"domain":["Rested Leg","Exercised Leg"],"range":["white","black"]},"legend":{"title":null,"orient":"none","legendX":10,"legendY":-1,"labelFontSize":6.5,"symbolSize":16,"rowPadding":1,"labelOffset":4}}}},
         {"mark":{"type":"rule","color":"black","strokeWidth":1.2},"encoding":{"y2":{"field":"hi"}}},
         {"mark":{"type":"tick","color":"black","thickness":1.2,"size":6},"encoding":{"y":{"field":"hi","type":"quantitative","axis":{"title":"AU","titleFontSize":10,"values":[0,0.2,0.4,0.6,0.8,1],"format":".1f","labelOverlap":false}}}}
        ]},
       {"data":{"name":"spans"},"transform":[{"filter":"datum.panel=='H'"}],
        "encoding":{
         "x":{"field":"day","type":"nominal","bandPosition":0.13,"scale":{"domain":["day 1","day 2","day 5"],"paddingInner":0,"paddingOuter":0},"axis":{"orient":"bottom","title":null,"labelAngle":0,"tickBand":"extent","tickSize":40,"labelPadding":-18,"labelFontSize":9}},
         "y":{"field":"y","type":"quantitative","axis":{"title":"AU","titleFontSize":10,"values":[0,0.2,0.4,0.6,0.8,1],"format":".1f","labelOverlap":false}}},
        "layer":[
         {"mark":{"type":"rule","color":"#333333","strokeWidth":1},"encoding":{"x2":{"field":"day","bandPosition":0.97}}},
         {"mark":{"type":"text","baseline":"bottom","dy":-1,"fontSize":8,"fontWeight":"bold"},"encoding":{"x":{"field":"day","type":"nominal","bandPosition":0.55,"axis":{"orient":"bottom","title":null,"labelAngle":0,"tickBand":"extent","tickSize":40,"labelPadding":-18,"labelFontSize":9}},"text":{"field":"t"}}}
        ]}
      ],
      "resolve":{"scale":{"x":"independent"},"axis":{"x":"independent"}}}
    ]}
   ],"spacing":41.5,"bounds":"full"}
  ],"spacing":83,"bounds":"full"}
 ],"spacing":25,"bounds":"full"}
],
"spacing":94,
"bounds":"full"
}
